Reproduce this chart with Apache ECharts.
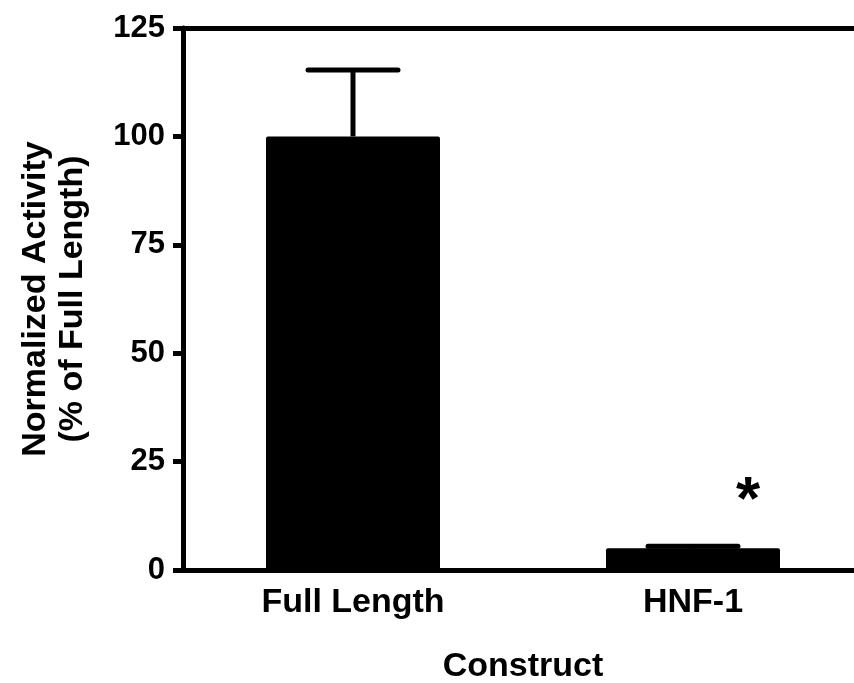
<!DOCTYPE html>
<html lang="en">
<head>
    <meta charset="UTF-8">
    <title>Normalized Activity</title>
    <script src="https://cdn.jsdelivr.net/npm/echarts@6/dist/echarts.min.js"></script>
    <style>
        html, body { margin: 0; padding: 0; background: #fff; }
        #chart { width: 854px; height: 683px; }
    </style>
</head>
<body>
<div id="chart"></div>
<script type="text/javascript">
    // data
    var constructs = ['Full Length', 'HNF-1'];
    var activity = [100, 5.0];
    var errUpper = [115.3, 5.5];     // top of the (one-sided) error bar
    var sigMarks = [[1, 18.4]];      // asterisk above HNF-1
    var yTicks = [0, 25, 50, 75, 100, 125];

    var font = 'Liberation Sans, Arial, sans-serif';
    var ink = '#000';

    var myChart = echarts.init(document.getElementById('chart'));

    var errData = [];
    for (var i = 0; i < constructs.length; i++) {
        errData.push([i, activity[i], errUpper[i]]);
    }

    var option = {
        backgroundColor: '#fff',
        animation: false,
        grid: {left: 183, top: 28, width: 680, bottom: 113, containLabel: false, outerBoundsMode: 'none'},
        xAxis: [{
            type: 'category',
            data: constructs,
            name: 'Construct',
            nameLocation: 'middle',
            nameGap: 80,
            nameTextStyle: {fontFamily: font, fontWeight: 'bold', fontSize: 34, color: ink},
            axisLine: {lineStyle: {color: ink, width: 5}},
            axisTick: {alignWithLabel: true, length: 10, lineStyle: {color: ink, width: 5}},
            axisLabel: {fontFamily: font, fontWeight: 'bold', fontSize: 34, color: ink, margin: 16}
        }, {
            type: 'category',
            data: constructs,
            position: 'top',
            axisLine: {onZero: false, lineStyle: {color: ink, width: 5}},
            axisTick: {show: false},
            axisLabel: {show: false}
        }],
        yAxis: {
            type: 'value',
            min: 0,
            max: 125,
            interval: 25,
            name: 'Normalized Activity\n(% of Full Length)',
            nameLocation: 'middle',
            nameGap: 92,
            nameRotate: 90,
            nameTextStyle: {fontFamily: font, fontWeight: 'bold', fontSize: 34, color: ink, lineHeight: 37},
            splitLine: {show: false},
            axisLine: {show: true, lineStyle: {color: ink, width: 5}},
            axisTick: {show: true, length: 10, lineStyle: {color: ink, width: 5}},
            axisLabel: {
                fontFamily: font, fontWeight: 'bold', fontSize: 31, color: ink, margin: 18,
                formatter: function (v) { return yTicks.indexOf(v) >= 0 ? String(v) : ''; }
            }
        },
        series: [{
            type: 'bar',
            data: activity,
            barWidth: 174,
            itemStyle: {color: ink, borderRadius: 2},
            z: 2
        }, {
            type: 'custom',
            data: errData,
            z: 3,
            renderItem: function (params, api) {
                var base = api.coord([api.value(0), api.value(1)]);
                var top = api.coord([api.value(0), api.value(2)]);
                var half = 45;
                return {
                    type: 'group',
                    children: [{
                        type: 'line',
                        shape: {x1: base[0], y1: base[1], x2: top[0], y2: top[1]},
                        style: {stroke: ink, lineWidth: 5}
                    }, {
                        type: 'line',
                        shape: {x1: top[0] - half, y1: top[1], x2: top[0] + half, y2: top[1]},
                        style: {stroke: ink, lineWidth: 5, lineCap: 'round'}
                    }]
                };
            }
        }, {
            type: 'scatter',
            data: sigMarks,
            symbolSize: 0,
            itemStyle: {opacity: 1, color: ink},
            label: {
                show: true,
                formatter: '*',
                position: 'inside',
                offset: [55, 12],
                fontFamily: font,
                fontWeight: 'bold',
                fontSize: 62,
                color: ink
            }
        }]
    };
    myChart.setOption(option);
</script>
</body>
</html>
